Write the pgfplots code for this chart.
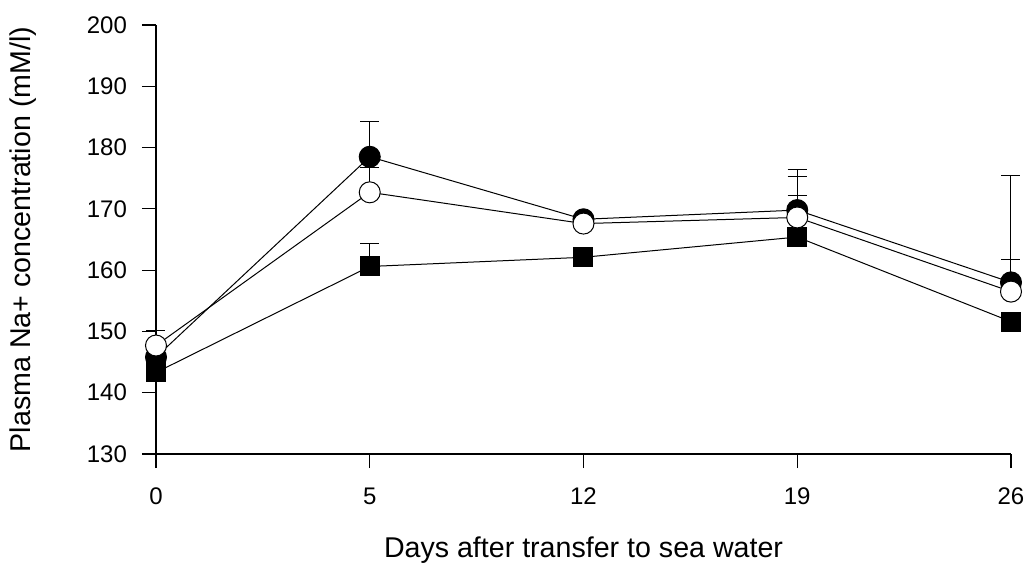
\documentclass[border=0pt]{standalone}
\usepackage{fontspec}
\setmainfont{Liberation Sans}
\usepackage{pgfplots}
\pgfplotsset{compat=1.18}

\begin{document}
\begin{tikzpicture}
\begin{axis}[
    scale only axis,
    width=427.5pt, height=214.5pt,
    xmin=0, xmax=4,
    ymin=130, ymax=200,
    clip=false,
    axis x line=bottom, axis y line=left,
    axis line style={-, line width=0.7pt},
    tick align=outside,
    major tick length=7pt,
    tick style={black, line width=0.6pt},
    xtick={0,1,2,3,4},
    xticklabels={0,5,12,19,26},
    ytick={130,140,...,200},
    /pgf/number format/assume math mode=true,
    ticklabel style={font=\fontsize{12}{14}\selectfont},
    xticklabel style={yshift=-6.5pt},
    yticklabel style={xshift=-4pt},
    label style={font=\fontsize{14.3}{16}\selectfont},
    xlabel={Days after transfer to sea water},
    ylabel={Plasma Na+ concentration (mM/l)},
    xlabel style={at={(axis description cs:0.5,-0.2401)}, anchor=base},
    ylabel style={at={(axis description cs:-0.1556,0.5)}, anchor=center},
    every axis plot/.append style={black, line width=0.5pt},
    errbar/.style={only marks, mark=none, forget plot,
        error bars/.cd, y dir=plus, y explicit,
        error bar style={black, solid, line width=0.5pt},
        error mark options={rotate=90, black, mark size=4.75pt, line width=0.5pt}},
]

% squares
\addplot[errbar] coordinates {
(1,160.6) +- (0,3.7)
(3,165.4) +- (0,6.7)
};
\addplot[mark=square*, mark size=4.75pt, mark options={fill=black}] coordinates {
(0,143.3)
(1,160.6)
(2,162.1)
(3,165.4)
(4,151.6)
};

% filled circles
\addplot[errbar] coordinates {
(1,178.5) +- (0,5.7)
(3,169.8) +- (0,6.6)
(4,158.0) +- (0,17.5)
};
\addplot[mark=*, mark size=5.25pt, mark options={fill=black}] coordinates {
(0,145.8)
(1,178.5)
(2,168.3)
(3,169.8)
(4,158.0)
};

% open circles
\addplot[errbar] coordinates {
(0,147.7) +- (0,2.5)
(1,172.7) +- (0,4.1)
(3,168.6) +- (0,6.6)
(4,156.5) +- (0,5.2)
};
\addplot[mark=*, mark size=5.25pt, mark options={fill=white}] coordinates {
(0,147.7)
(1,172.7)
(2,167.6)
(3,168.6)
(4,156.5)
};

\end{axis}
\pgfresetboundingbox
\path (current axis.south west) ++(-78pt,-55pt) rectangle ++(512.5pt,282pt);
\end{tikzpicture}
\end{document}
